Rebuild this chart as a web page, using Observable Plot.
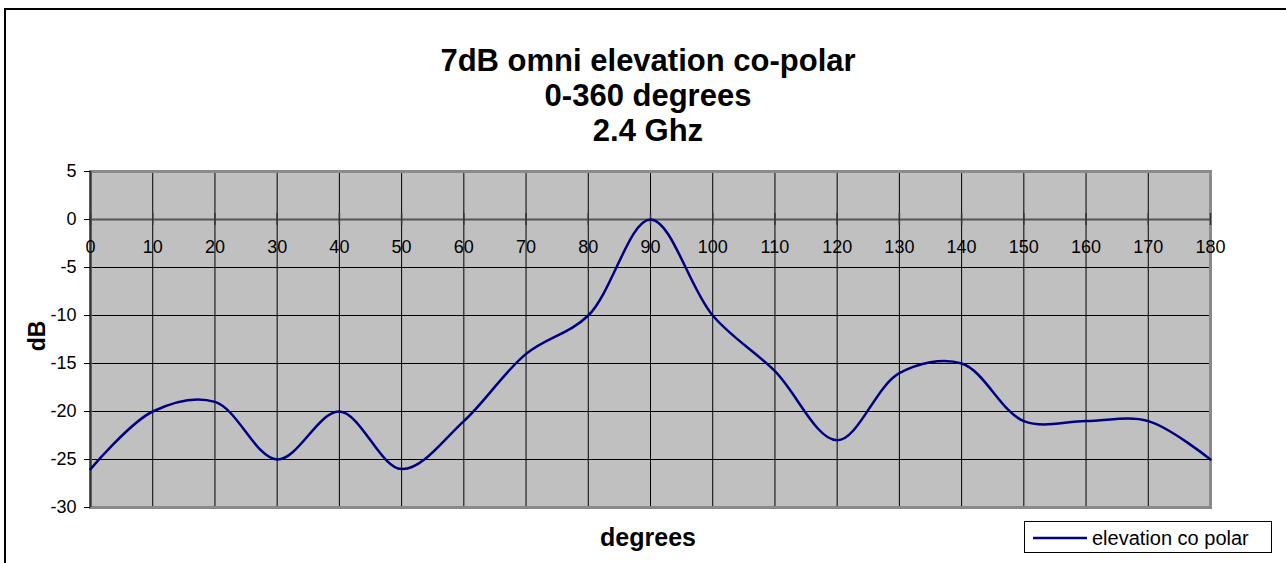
<!DOCTYPE html>
<html>
<head>
<meta charset="utf-8">
<script src="https://cdn.jsdelivr.net/npm/d3@7"></script>
<script src="https://cdn.jsdelivr.net/npm/@observablehq/plot@0.6"></script>
<style>
  html, body { margin: 0; padding: 0; background: #fff; }
  #chart { width: 1286px; height: 563px; overflow: hidden; }
  svg { font-family: "Liberation Sans", Arial, sans-serif; }
</style>
</head>
<body>
<div id="chart"></div>
<script>
const degrees = [0, 10, 20, 30, 40, 50, 60, 70, 80, 90, 100, 110, 120, 130, 140, 150, 160, 170, 180];
const dB = [-26, -20, -19, -25, -20, -26, -21, -14, -10, 0, -10, -15.8, -23, -16, -15, -21, -21, -21, -25];
const xTicks = [0, 10, 20, 30, 40, 50, 60, 70, 80, 90, 100, 110, 120, 130, 140, 150, 160, 170, 180];
const yTicks = [5, 0, -5, -10, -15, -20, -25, -30];
const titleLines = ["7dB omni elevation co-polar", "0-360 degrees", "2.4 Ghz"];
const xLabel = "degrees";
const yLabel = "dB";
const seriesName = "elevation co polar";

const data = degrees.map((d, i) => ({deg: d, db: dB[i]}));

const W = 1286, H = 563;
const chart = Plot.plot({
  width: W,
  height: H,
  marginLeft: 90,
  marginRight: 76,
  marginTop: 171,
  marginBottom: 56,
  style: {fontFamily: '"Liberation Sans", Arial, sans-serif', fontSize: "18px", background: "transparent", color: "#000"},
  x: {domain: [0, 180], axis: null},
  y: {domain: [-30, 5]},
  marks: [
    Plot.frame({fill: "#c0c0c0", stroke: null}),
    Plot.gridX(xTicks, {stroke: "#000", strokeOpacity: 1, strokeWidth: 1}),
    Plot.gridY(yTicks, {stroke: "#000", strokeOpacity: 1, strokeWidth: 1}),
    Plot.frame({stroke: "#8a8a8a", strokeWidth: 3}),
    Plot.ruleX([0], {stroke: "#333", strokeWidth: 2}),
    Plot.ruleY([0], {stroke: "#555", strokeWidth: 2}),
    Plot.ruleX(xTicks, {x: d => d, y1: 0, y2: 0, insetTop: -6, insetBottom: -6, stroke: "#333", strokeWidth: 1.5}),
    Plot.text(xTicks, {x: d => d, y: 0, dy: 28, text: d => String(d), fontSize: 18, fill: "#000", lineAnchor: "middle", textAnchor: "middle"}),
    Plot.axisY(yTicks, {tickSize: 6, tickPadding: 8, fontSize: 18, label: null, stroke: "#000", tickFormat: d => String(d)}),
    Plot.line(data, {x: "deg", y: "db", curve: "catmull-rom", stroke: "#000080", strokeWidth: 2.5})
  ]
});
document.getElementById("chart").appendChild(chart);

const svg = d3.select(chart);
// outer chart border
svg.append("rect").attr("x", 5).attr("y", 9).attr("width", W + 10).attr("height", H + 10)
  .attr("fill", "none").attr("stroke", "#000").attr("stroke-width", 2);

// title
const tg = svg.append("g").attr("font-weight", "bold").attr("font-size", 31).attr("text-anchor", "middle")
  .attr("font-family", '"Liberation Sans", Arial, sans-serif');
titleLines.forEach((t, i) => {
  tg.append("text").attr("x", 648).attr("y", 71 + i * 35).text(t);
});

// axis titles
svg.append("text").attr("x", 648).attr("y", 546).attr("text-anchor", "middle")
  .attr("font-weight", "bold").attr("font-size", 25).text(xLabel);
svg.append("text").attr("transform", "translate(45,336) rotate(-90)").attr("text-anchor", "middle")
  .attr("font-weight", "bold").attr("font-size", 23).text(yLabel);

// legend
const lg = svg.append("g");
lg.append("rect").attr("x", 1024.5).attr("y", 521.5).attr("width", 247).attr("height", 31)
  .attr("fill", "#fff").attr("stroke", "#000").attr("stroke-width", 1);
lg.append("path").attr("d", "M1033,538H1087")
  .attr("fill", "none").attr("stroke", "#000080").attr("stroke-width", 2.5);
lg.append("text").attr("x", 1092).attr("y", 545).attr("text-anchor", "start").attr("font-size", 20).text(seriesName);
</script>
</body>
</html>
